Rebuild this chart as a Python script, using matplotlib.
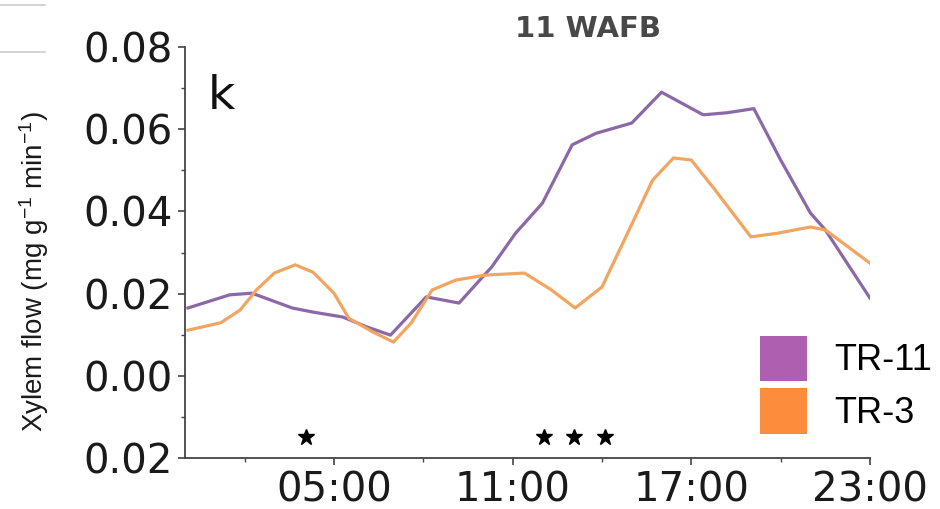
import matplotlib
matplotlib.use("Agg")
import matplotlib.pyplot as plt
from matplotlib.patches import Patch
from matplotlib.lines import Line2D
from matplotlib.ticker import FixedLocator, MultipleLocator

# TR-11 (purple) hours / flow
tr11_hours = [0.1, 1.5, 2.25, 3.6, 4.3, 5.3, 6.1, 6.9, 8.1, 9.2, 10.3, 11.1, 12.0,
              13.0, 13.8, 15.0, 16.0, 17.4, 18.2, 19.1, 20.0, 21.0, 21.5, 23.0]
tr11_flow = [0.0165, 0.0197, 0.0201, 0.0165, 0.0155, 0.0143, 0.0119, 0.0099, 0.0192,
             0.0177, 0.0265, 0.0347, 0.042, 0.0562, 0.059, 0.0615, 0.069, 0.0635,
             0.064, 0.065, 0.0525, 0.0396, 0.0355, 0.0189]

# TR-3 (orange) hours / flow
tr3_hours = [0.1, 1.2, 1.85, 2.4, 3.0, 3.7, 4.3, 5.0, 5.5, 6.3, 7.0, 7.6, 8.3, 9.1,
             10.1, 11.4, 12.3, 13.1, 14.0, 14.8, 15.7, 16.4, 17.0, 17.8, 19.0, 19.9,
             21.0, 21.5, 23.0]
tr3_flow = [0.0111, 0.0129, 0.016, 0.0209, 0.025, 0.027, 0.0252, 0.0201, 0.014, 0.0107,
            0.0082, 0.0129, 0.0209, 0.0233, 0.0245, 0.025, 0.0209, 0.0165, 0.0216,
            0.0338, 0.0476, 0.053, 0.0525, 0.0452, 0.0338, 0.0347, 0.0362, 0.0355,
            0.0274]

# significance stars
star_hours = [4.05, 12.05, 13.05, 14.1]
star_level = -0.015

x_ticks = [5, 11, 17, 23]
x_labels = ["05:00", "11:00", "17:00", "23:00"]
y_ticks = [-0.02, 0.0, 0.02, 0.04, 0.06, 0.08]
y_labels = ["0.02", "0.00", "0.02", "0.04", "0.06", "0.08"]

series_names = ["TR-11", "TR-3"]
legend_colors = ["#ae5fb0", "#fd8c3c"]
line_colors = ["#8b68a8", "#f2a560"]

plt.rcParams["mathtext.fontset"] = "custom"
plt.rcParams["mathtext.rm"] = "Liberation Sans"
plt.rcParams["mathtext.default"] = "rm"

fig = plt.figure(figsize=(9.4, 5.09), dpi=100)
ax = fig.add_axes([185 / 940, 1 - 458 / 509, 685 / 940, 411 / 509])

ax.plot(tr11_hours, tr11_flow, color=line_colors[0], lw=2.3, solid_joinstyle="round")
ax.plot(tr3_hours, tr3_flow, color=line_colors[1], lw=2.3, solid_joinstyle="round")
ax.plot(star_hours, [star_level] * len(star_hours), ls="none", marker="*",
        color="black", markersize=12)

ax.set_xlim(0, 23)
ax.set_ylim(-0.02, 0.08)
ax.xaxis.set_major_locator(FixedLocator(x_ticks))
ax.set_xticklabels(x_labels)
ax.xaxis.set_minor_locator(FixedLocator([2, 8, 14, 20]))
ax.yaxis.set_major_locator(FixedLocator(y_ticks))
ax.set_yticklabels(y_labels)
ax.yaxis.set_minor_locator(MultipleLocator(0.01))

for s in ["top", "right"]:
    ax.spines[s].set_visible(False)
for s in ["left", "bottom"]:
    ax.spines[s].set_color("#444444")
    ax.spines[s].set_linewidth(1.3)

ax.tick_params(which="major", length=5, width=1.2, color="#444444",
               labelsize=29, labelcolor="#1a1a1a", pad=4)
ax.tick_params(which="minor", length=3, width=1.0, color="#444444")
for lab in ax.get_xticklabels() + ax.get_yticklabels():
    lab.set_family("DejaVu Sans")

ax.set_ylabel("Xylem flow (mg g$^{-1}$ min$^{-1}$)", fontsize=20,
              family="Liberation Sans", color="#1a1a1a")
ax.yaxis.set_label_coords(-0.196, 0.455)

ax.text(0.033, 0.935, "k", transform=ax.transAxes, fontsize=34,
        family="DejaVu Sans", va="top", ha="left", color="#111111")

fig.text(588 / 940, 1 - 29 / 509, "11 WAFB", fontsize=21, fontweight="bold",
         family="DejaVu Sans", color="#484848", ha="center", va="center")

handles = [Patch(facecolor=c, edgecolor="none") for c in legend_colors]
fig.legend(handles, series_names, loc="upper left",
           bbox_to_anchor=(760 / 940, 1 - 336 / 509), frameon=False,
           prop={"family": "Liberation Sans", "size": 26},
           handlelength=1.3, handleheight=1.55, labelspacing=0.2,
           handletextpad=0.75, borderpad=0, borderaxespad=0)

# leftover rule lines from the cropped page (top-left)
for yy in [5, 52]:
    fig.add_artist(Line2D([0, 45 / 940], [1 - yy / 509, 1 - yy / 509],
                          color="#cccccc", lw=1.2, transform=fig.transFigure))

fig.savefig("out.png", dpi=100)
